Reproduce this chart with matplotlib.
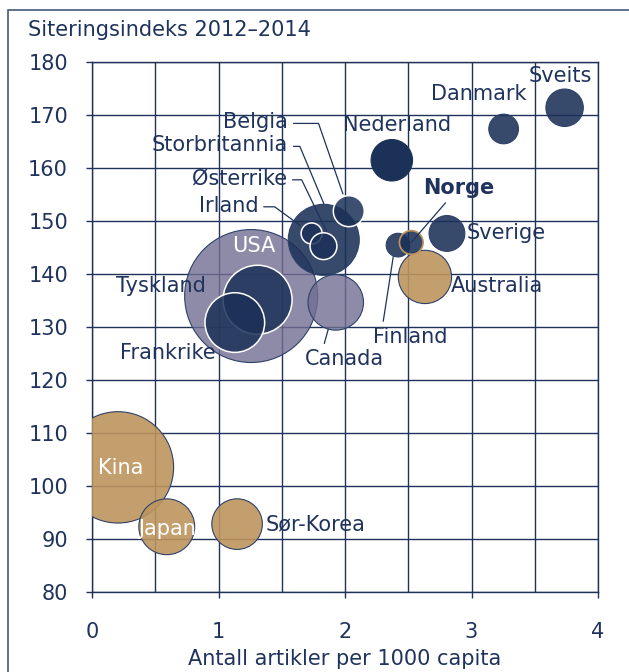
import matplotlib

matplotlib.use("Agg")
import matplotlib.pyplot as plt
from matplotlib.patches import Rectangle
from matplotlib.ticker import MultipleLocator
from matplotlib.transforms import offset_copy
from matplotlib.colors import to_rgba

# data, listed in drawing order (back to front)
countries = [
    "USA", "Kina", "Japan", "Sør-Korea", "Canada", "Tyskland", "Frankrike",
    "Storbritannia", "Irland", "Østerrike", "Belgia", "Nederland", "Danmark",
    "Sveits", "Sverige", "Australia", "Finland", "Norge",
]
articles_per_1000 = [
    1.258, 0.205, 0.591, 1.147, 1.927, 1.309, 1.129,
    1.832, 1.736, 1.830, 2.030, 2.370, 3.254,
    3.736, 2.806, 2.632, 2.419, 2.524,
]
citation_index = [
    135.8, 103.5, 92.3, 92.8, 134.6, 135.1, 130.8,
    146.4, 147.6, 145.2, 151.8, 161.4, 167.3,
    171.3, 147.6, 139.4, 145.4, 145.9,
]
# bubble size (relative publication volume)
volume = [
    44.2, 31.0, 7.8, 6.4, 7.7, 11.9, 8.9,
    12.6, 1.1, 1.8, 2.4, 4.3, 2.2,
    3.5, 3.2, 7.1, 1.4, 1.4,
]
group = [
    "gray", "tan", "tan", "tan", "gray", "navy_w", "navy_w",
    "navy", "navy_w", "navy_w", "navy_w", "navy_dark", "navy",
    "navy", "navy", "tan", "navy", "norge",
]

TEXT = "#1F335C"
GRID = "#1F3259"
NAVY = "#1C3158"

styles = {
    "navy": (to_rgba(NAVY, 0.88), "#2E4169", 0.8),
    "navy_w": (to_rgba(NAVY, 0.85), "white", 1.1),
    "navy_dark": (to_rgba(NAVY, 1.0), NAVY, 0.8),
    "gray": (to_rgba("#726E92", 0.8), "#2E4169", 0.8),
    "tan": (to_rgba("#BD955E", 0.9), "#2E4169", 0.8),
    "norge": (to_rgba(NAVY, 0.88), "#BD955E", 1.2),
}

# label placement: offset (points) from bubble centre, alignment
plain_labels = {
    "USA": ((2.2, 36.0), "center", "white"),
    "Kina": ((1.7, -0.5), "center", "white"),
    "Japan": ((0.2, -1.7), "center", "white"),
    "Sør-Korea": ((20.2, 0.0), "left", TEXT),
    "Tyskland": ((-37.1, 10.1), "right", TEXT),
    "Frankrike": ((-13.5, -21.7), "right", TEXT),
    "Sveits": ((-3.4, 23.0), "center", TEXT),
    "Danmark": ((-17.9, 25.1), "center", TEXT),
    "Nederland": ((3.7, 25.3), "center", TEXT),
    "Sverige": ((14.4, 0.0), "left", TEXT),
    "Australia": ((18.7, -6.5), "left", TEXT),
}
# elbow leaders: text offset, line end offset, angle of the slanted part
elbow_labels = {
    "Belgia": ((-43.8, 63.9), (-4.2, 12.4), -70.9),
    "Storbritannia": ((-25.8, 68.0), (0.1, 25.9), -67.3),
    "Østerrike": ((-26.3, 48.5), (2.3, 10.5), -64.2),
    "Irland": ((-38.5, 19.9), (-8.3, 5.8), -36.2),
}
# straight leaders: text offset, line end offset, relpos on text box
straight_labels = {
    "Norge": ((34.3, 39.2), (0.0, 0.0), (0.37, 0.0)),
    "Finland": ((8.6, -66.0), (-3.4, -8.2), (0.13, 1.0)),
    "Canada": ((6.6, -40.7), (-5.4, -19.3), (0.22, 1.0)),
}

fig = plt.figure(figsize=(6.29, 6.72), dpi=100)
ax = fig.add_axes([92 / 629, 80 / 672, 506 / 629, 530.4 / 672])

# bubble area: radius in px = 10*sqrt(volume), scatter s in pt^2
sizes = [(2 * 10 * v ** 0.5 * 0.72) ** 2 for v in volume]
ax.scatter(
    articles_per_1000,
    citation_index,
    s=sizes,
    c=[styles[g][0] for g in group],
    edgecolors=[styles[g][1] for g in group],
    linewidths=[styles[g][2] for g in group],
    zorder=3,
)

ax.set_xlim(0, 4)
ax.set_ylim(80, 180)
ax.xaxis.set_major_locator(MultipleLocator(1))
ax.xaxis.set_minor_locator(MultipleLocator(0.5))
ax.yaxis.set_major_locator(MultipleLocator(10))
ax.grid(True, which="both", color=GRID, linewidth=1.0, zorder=0)
ax.set_axisbelow(True)
for spine in ax.spines.values():
    spine.set_color(GRID)
    spine.set_linewidth(1.0)
ax.tick_params(axis="both", which="major", length=4.3, width=1.0, color=GRID,
               labelsize=15, labelcolor=TEXT)
ax.tick_params(axis="x", which="major", pad=17)
ax.tick_params(axis="y", which="major", pad=13)
ax.tick_params(which="minor", length=0)
ax.set_xlabel("Antall artikler per 1000 capita", fontsize=15, color=TEXT, labelpad=5)

pos = dict(zip(countries, zip(articles_per_1000, citation_index)))

for name, ((dx, dy), ha, col) in plain_labels.items():
    ax.annotate(name, xy=pos[name], xytext=(dx, dy), textcoords="offset points",
                ha=ha, va="center", fontsize=15, color=col, zorder=5)

for name, ((tx, ty), (ex, ey), ang) in elbow_labels.items():
    ax.annotate(
        name, xy=pos[name],
        xycoords=offset_copy(ax.transData, fig=fig, x=ex, y=ey, units="points"),
        xytext=(tx - ex, ty - ey), textcoords="offset points",
        ha="right", va="center", fontsize=15, color=TEXT, zorder=5,
        arrowprops=dict(arrowstyle="-", color=TEXT, lw=0.9, shrinkA=2, shrinkB=0,
                        relpos=(1, 0.45),
                        connectionstyle=f"angle,angleA=0,angleB={ang},rad=0"),
    )

for name, ((tx, ty), (ex, ey), rp) in straight_labels.items():
    ax.annotate(
        name, xy=pos[name],
        xycoords=offset_copy(ax.transData, fig=fig, x=ex, y=ey, units="points"),
        xytext=(tx - ex, ty - ey), textcoords="offset points",
        ha="center", va="center", fontsize=15, color=TEXT, zorder=5,
        fontweight="bold" if name == "Norge" else "normal",
        arrowprops=dict(arrowstyle="-", color=TEXT, lw=0.9, shrinkA=2, shrinkB=0,
                        relpos=rp),
    )

fig.text(28 / 629, 1 - 30 / 672, "Siteringsindeks 2012–2014", fontsize=15,
         color=TEXT, ha="left", va="center")
fig.patches.append(Rectangle((8 / 629, -0.05), 1.0, 1.05 - 10 / 672,
                             transform=fig.transFigure, fill=False,
                             edgecolor="#45587A", linewidth=1.2))

fig.savefig("out.png", dpi=100)
